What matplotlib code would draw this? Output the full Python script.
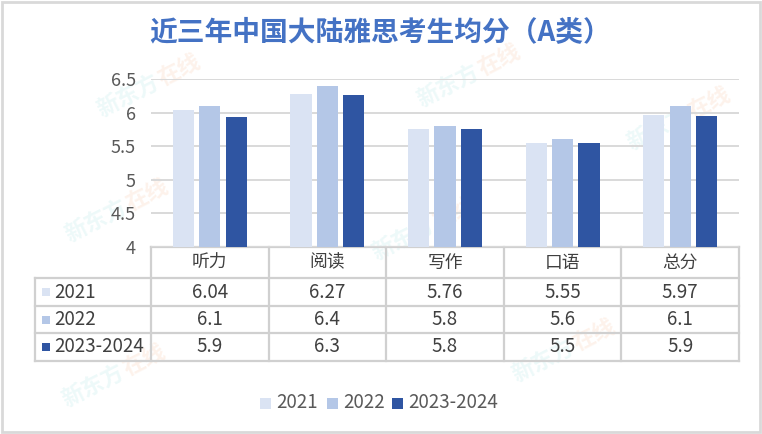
import matplotlib
matplotlib.use("Agg")
import matplotlib.pyplot as plt
from matplotlib.patches import Rectangle
import math

plt.rcParams['font.family'] = ['Noto Sans CJK SC', 'DejaVu Sans']

# ---- data ----
title = "近三年中国大陆雅思考生均分（A类）"
categories = ["听力", "阅读", "写作", "口语", "总分"]
series_names = ["2021", "2022", "2023-2024"]
vals_2021 = [6.04, 6.27, 5.76, 5.55, 5.97]
vals_2022 = [6.1, 6.4, 5.8, 5.6, 6.1]
vals_2023_2024 = [5.93, 6.26, 5.76, 5.55, 5.95]
table_2021 = ["6.04", "6.27", "5.76", "5.55", "5.97"]
table_2022 = ["6.1", "6.4", "5.8", "5.6", "6.1"]
table_2023_2024 = ["5.9", "6.3", "5.8", "5.5", "5.9"]
yticks = [4, 4.5, 5, 5.5, 6, 6.5]
ytick_labels = ["4", "4.5", "5", "5.5", "6", "6.5"]

colors = ["#DAE3F3", "#B4C7E7", "#2F55A2"]
series_vals = [vals_2021, vals_2022, vals_2023_2024]
series_tables = [table_2021, table_2022, table_2023_2024]

W, H = 762, 434
fig = plt.figure(figsize=(W / 100, H / 100), dpi=100)
fig.patch.set_facecolor("white")

# pixel layout
ax_left, ax_right = 151, 739
ax_top, ax_bottom = 79, 247

# background / overlay axes in pixel coords
bg = fig.add_axes([0, 0, 1, 1], zorder=0)
bg.set_xlim(0, W)
bg.set_ylim(H, 0)
bg.axis("off")

# outer frame
bg.add_patch(Rectangle((1.5, 1.5), W - 3.5, H - 4, fill=False,
                       edgecolor="#d9d9d9", linewidth=2))

# faint watermarks
ang = 27
dxu, dyu = math.cos(math.radians(ang)), -math.sin(math.radians(ang))
wm_positions = [(150, 85), (118, 210), (115, 375), (425, 228), (470, 75), (680, 118), (565, 350)]
for (x, y) in wm_positions:
    bg.text(x - 25 * dxu, y - 25 * dyu, "新东方", color="#5cc8c8", alpha=0.11, fontsize=16,
            fontweight="bold", rotation=ang, ha="center", va="center")
    bg.text(x + 33 * dxu, y + 33 * dyu, "在线", color="#f08a4b", alpha=0.11, fontsize=16,
            fontweight="bold", rotation=ang, ha="center", va="center")

# title
bg.text(380, 33, title, color="#4472C4", fontsize=20, fontweight="bold",
        ha="center", va="center")

# main axes
ax = fig.add_axes([ax_left / W, 1 - ax_bottom / H,
                   (ax_right - ax_left) / W, (ax_bottom - ax_top) / H], zorder=2)
ax.patch.set_alpha(0)
n = len(categories)
xs = list(range(n))
offset = 0.225
bw = 0.18
for k, (vals, c) in enumerate(zip(series_vals, colors)):
    ax.bar([x + (k - 1) * offset for x in xs], [v - 4 for v in vals], bottom=4,
           width=bw, color=c, zorder=3)
ax.set_xlim(-0.5, n - 0.5)
ax.set_ylim(4, 6.5)
ax.set_yticks(yticks)
ax.set_yticklabels(ytick_labels, fontsize=13, color="#595959")
ax.tick_params(axis="y", length=0, pad=11)
ax.set_xticks([])
for s in ax.spines.values():
    s.set_visible(False)
ax.yaxis.grid(True, color="#d9d9d9", linewidth=1.4, zorder=0)
ax.set_axisbelow(True)

# ---- data table ----
grid_c = "#d0d0d0"
lw = 1.6
col_w = (ax_right - ax_left) / n
col_edges = [ax_left + i * col_w for i in range(n + 1)]
row_edges = [247, 278, 306, 333, 361]
label_left = 35

bg.plot([ax_left, ax_right], [row_edges[0], row_edges[0]], color=grid_c, lw=lw, zorder=3)
for y in row_edges[1:]:
    bg.plot([label_left, ax_right], [y, y], color=grid_c, lw=lw, zorder=3)
for x in col_edges:
    bg.plot([x, x], [row_edges[0], row_edges[-1]], color=grid_c, lw=lw, zorder=3)
bg.plot([label_left, label_left], [row_edges[1], row_edges[-1]], color=grid_c, lw=lw, zorder=3)

txt_c = "#404040"
fs_num = 13.5
fs_cat = 12.8
for i, cat in enumerate(categories):
    cx = (col_edges[i] + col_edges[i + 1]) / 2
    bg.text(cx, (row_edges[0] + row_edges[1]) / 2, cat, ha="center", va="center",
            fontsize=fs_cat, color=txt_c, zorder=4)
for r, (name, tvals, c) in enumerate(zip(series_names, series_tables, colors)):
    cy = (row_edges[r + 1] + row_edges[r + 2]) / 2
    bg.add_patch(Rectangle((42, cy - 4), 8, 8, facecolor=c, edgecolor="none", zorder=4))
    bg.text(54, cy, name, ha="left", va="center", fontsize=fs_num, color=txt_c, zorder=4)
    for i, t in enumerate(tvals):
        cx = (col_edges[i] + col_edges[i + 1]) / 2
        bg.text(cx, cy, t, ha="center", va="center", fontsize=fs_num, color=txt_c, zorder=4)

# ---- legend ----
leg_y = 403
leg_x = [260, 327, 392]
for x, name, c in zip(leg_x, series_names, colors):
    bg.add_patch(Rectangle((x, leg_y - 5.5), 11, 11, facecolor=c, edgecolor="none", zorder=4))
    bg.text(x + 16, leg_y, name, ha="left", va="center", fontsize=13.5, color="#595959", zorder=4)

fig.savefig("out.png", dpi=100, facecolor="white")
